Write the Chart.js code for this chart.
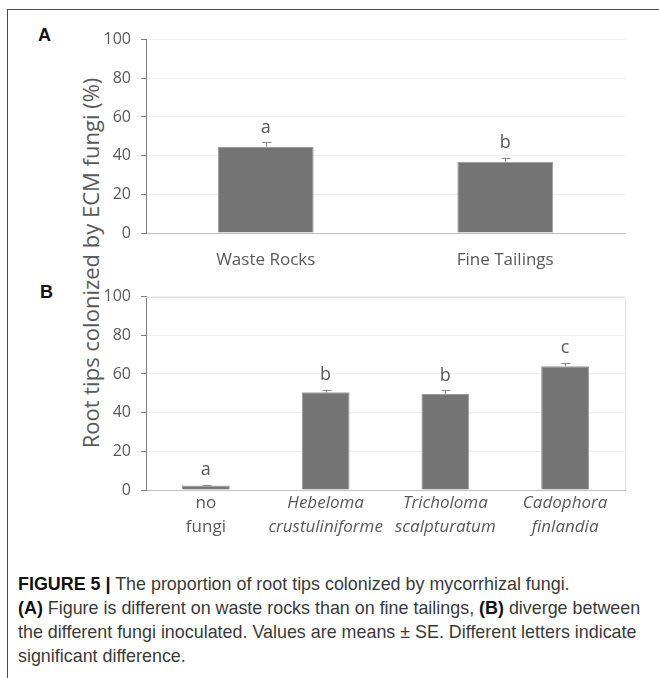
<!DOCTYPE html>
<html>
<head>
<meta charset="utf-8">
<script src="https://cdn.jsdelivr.net/npm/chart.js@4.4.0/dist/chart.umd.min.js"></script>
<style>
body { margin: 0; background: #fff; }
#page { position: relative; width: 659px; height: 678px; overflow: hidden; font-family: "Open Sans", sans-serif; }
#frame { position: absolute; left: 7px; top: 9px; width: 700px; height: 700px; border-top: 1px solid #4d4d4d; border-left: 1px solid #4d4d4d; }
.wrap { position: absolute; left: 100px; }
.tag { position: absolute; font: bold 18px "Liberation Sans", Arial, sans-serif; color: #111; }
#ytitle { position: absolute; left: 90px; top: 263px; transform: translate(-50%, -50%) rotate(-90deg); white-space: nowrap; font-size: 22px; color: #595959; }
#caption { position: absolute; left: 18px; top: 572px; width: 640px; font: 17.9px/24px "Liberation Sans", Arial, sans-serif; color: #3a3a3a; white-space: nowrap; }
#caption b { color: #111; }
</style>
</head>
<body>
<div id="page">
  <div id="frame"></div>
  <div class="tag" style="left:38px; top:25px;">A</div>
  <div class="tag" style="left:40px; top:282px;">B</div>
  <div id="ytitle">Root tips colonized by ECM fungi (%)</div>
  <div class="wrap" style="top:20px;"><canvas id="chartA" width="540" height="260"></canvas></div>
  <div class="wrap" style="top:277px;"><canvas id="chartB" width="540" height="270"></canvas></div>
  <div id="caption">
    <b>FIGURE 5 |</b> The proportion of root tips colonized by mycorrhizal fungi.<br>
    <b>(A)</b> Figure is different on waste rocks than on fine tailings, <b>(B)</b> diverge between<br>
    the different fungi inoculated. Values are means &plusmn; SE. Different letters indicate<br>
    significant difference.
  </div>
</div>
<script>
// panel A
const sitesA = ["Waste Rocks", "Fine Tailings"];
const meanA = [44.5, 36.8];
const seA = [2.3, 2.0];
const lettersA = ["a", "b"];

// panel B
const fungiB = [["no", "fungi"], ["Hebeloma", "crustuliniforme"], ["Tricholoma", "scalpturatum"], ["Cadophora", "finlandia"]];
const meanB = [2.3, 50.5, 49.6, 64.0];
const seB = [0.5, 1.1, 1.9, 1.8];
const lettersB = ["a", "b", "b", "c"];

const yTicks = [0, 20, 40, 60, 80, 100];

const errorBars = {
    id: "errorBars",
    afterDatasetsDraw(chart, args, opts) {
        const ctx = chart.ctx;
        const meta = chart.getDatasetMeta(0);
        const y = chart.scales.y;
        ctx.save();
        ctx.strokeStyle = "#8c8c8c";
        ctx.lineWidth = 1;
        ctx.fillStyle = "#595959";
        ctx.font = "18px 'Open Sans'";
        ctx.textAlign = "center";
        ctx.textBaseline = "middle";
        meta.data.forEach(function(bar, i) {
            const top = y.getPixelForValue(opts.mean[i] + opts.se[i]);
            const x = Math.round(bar.x) + 0.5;
            ctx.beginPath();
            ctx.moveTo(x, bar.y);
            ctx.lineTo(x, top);
            ctx.moveTo(x - 4, Math.round(top) + 0.5);
            ctx.lineTo(x + 5, Math.round(top) + 0.5);
            ctx.stroke();
            ctx.fillText(opts.letters[i], bar.x, top - 15);
        });
        ctx.restore();
    }
};

const plotFrame = {
    id: "plotFrame",
    beforeDatasetsDraw(chart, args, opts) {
        if (!opts.show) return;
        const a = chart.chartArea;
        const ctx = chart.ctx;
        ctx.save();
        ctx.strokeStyle = "#e4e4e4";
        ctx.lineWidth = 1;
        ctx.beginPath();
        ctx.moveTo(a.left, Math.round(a.top) + 0.5);
        ctx.lineTo(Math.round(a.right) + 0.5, Math.round(a.top) + 0.5);
        ctx.lineTo(Math.round(a.right) + 0.5, a.bottom);
        ctx.stroke();
        ctx.restore();
    }
};

function makeChart(id, labels, mean, se, letters, xHeight, xPad, frame) {
    const ctx = document.getElementById(id).getContext("2d");
    return new Chart(ctx, {
        type: "bar",
        data: {
            labels: labels,
            datasets: [{
                data: mean,
                backgroundColor: "#747474",
                borderColor: "#9c9c9c",
                borderWidth: 1,
                barPercentage: 0.4,
                categoryPercentage: 1.0,
            }],
        },
        options: {
            responsive: false,
            animation: false,
            layout: { padding: { top: 13, right: 15, left: 0, bottom: 0 } },
            plugins: {
                legend: { display: false },
                tooltip: { enabled: false },
                errorBars: { mean: mean, se: se, letters: letters },
                plotFrame: { show: frame },
            },
            scales: {
                x: {
                    grid: { display: false, drawTicks: false },
                    border: { color: "#bfbfbf", width: 1 },
                    afterFit: function(scale) { scale.height = xHeight; },
                    ticks: {
                        padding: xPad,
                        color: "#595959",
                        autoSkip: false,
                        maxRotation: 0,
                        font: function(c) {
                            const italic = id === "chartB" && c.index > 0;
                            return { family: "'Open Sans'", size: 17, style: italic ? "italic" : "normal", lineHeight: 1.42 };
                        },
                    },
                },
                y: {
                    min: 0,
                    max: 100,
                    afterFit: function(scale) { scale.width = 46; },
                    afterBuildTicks: function(scale) {
                        scale.ticks = yTicks.map(function(v) { return { value: v }; });
                    },
                    grid: { color: "#f0f0f0", tickColor: "#7f7f7f", tickLength: 5 },
                    border: { color: "#7f7f7f", width: 1 },
                    ticks: {
                        padding: 10,
                        color: "#595959",
                        font: { family: "'Open Sans'", size: 16 },
                    },
                },
            },
        },
        plugins: [errorBars, plotFrame],
    });
}

makeChart("chartA", sitesA, meanA, seA, lettersA, 47, 15, false);
makeChart("chartB", fungiB, meanB, seB, lettersB, 57, 1, true);
</script>
</body>
</html>
